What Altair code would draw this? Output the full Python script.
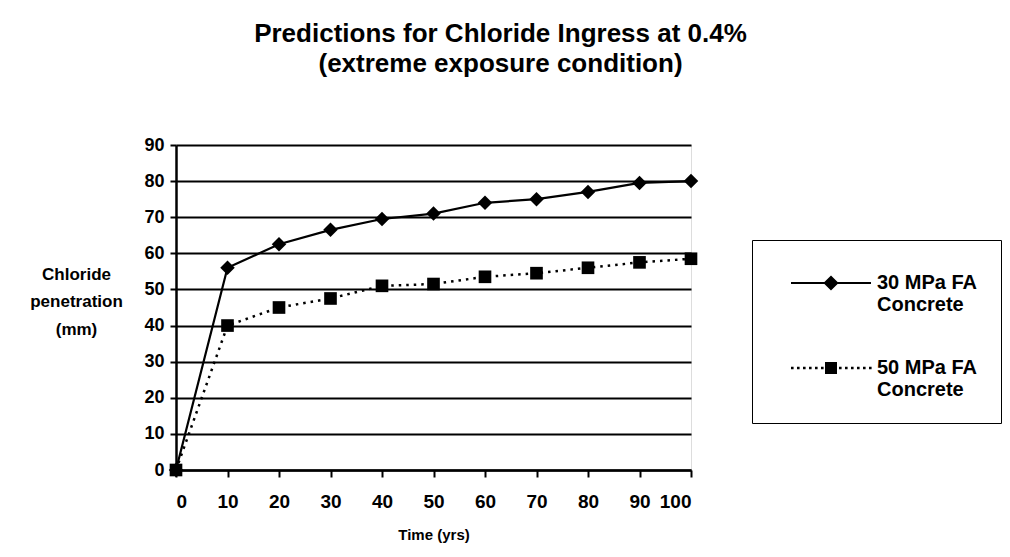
import altair as alt
import pandas as pd

# ---- data ----
years = [0, 10, 20, 30, 40, 50, 60, 70, 80, 90, 100]
mpa30 = [0, 56, 62.5, 66.5, 69.5, 71, 74, 75, 77, 79.5, 80]
mpa50 = [0, 40, 45, 47.5, 51, 51.5, 53.5, 54.5, 56, 57.5, 58.5]
series_names = ["30 MPa FA Concrete", "50 MPa FA Concrete"]
y_ticks = [0, 10, 20, 30, 40, 50, 60, 70, 80, 90]

df = pd.DataFrame({
    "year": years + years,
    "value": mpa30 + mpa50,
    "series": [series_names[0]] * len(years) + [series_names[1]] * len(years),
})

FONT = "Liberation Sans"

x = alt.X("year:Q", scale=alt.Scale(domain=[0, 100], nice=False),
          axis=alt.Axis(values=years, title="Time (yrs)", format="d",
                        labelFont=FONT, labelFontSize=19, labelFontWeight="bold",
                        labelColor="black", labelPadding=15,
                        titleFont=FONT, titleFontSize=15, titleFontWeight="bold",
                        titleColor="black", titlePadding=16,
                        domainColor="black", domainWidth=2.5,
                        tickColor="black", tickWidth=2, tickSize=7, grid=False))
y = alt.Y("value:Q", scale=alt.Scale(domain=[0, 90], nice=False),
          axis=alt.Axis(values=y_ticks, format="d",
                        title=["Chloride", "penetration", "(mm)"],
                        titleAngle=0, titleAlign="center", titleBaseline="top",
                        titleX=-100, titleY=121, titleLineHeight=27.5,
                        titleFont=FONT, titleFontSize=17, titleFontWeight="bold",
                        titleColor="black",
                        labelFont=FONT, labelFontSize=18, labelFontWeight="bold",
                        labelColor="black", labelPadding=6,
                        domainColor="black", domainWidth=2.5,
                        tickColor="black", tickWidth=2, tickSize=6,
                        grid=True, gridColor="black", gridWidth=2, gridOpacity=1))

line30 = alt.Chart(df).transform_filter(
    alt.datum.series == series_names[0]
).mark_line(color="black", strokeWidth=2.2).encode(x=x, y=y)

line50 = alt.Chart(df).transform_filter(
    alt.datum.series == series_names[1]
).mark_line(color="black", strokeWidth=2.5, strokeDash=[2.5, 5]).encode(x=x, y=y)

pts30 = alt.Chart(df).transform_filter(
    alt.datum.series == series_names[0]
).mark_point(shape="diamond", filled=True, color="black", opacity=1, size=210).encode(x=x, y=y)

pts50 = alt.Chart(df).transform_filter(
    alt.datum.series == series_names[1]
).mark_point(shape="square", filled=True, color="black", opacity=1, size=160).encode(x=x, y=y)


# ---- legend symbol shapes (filled outlines; 1 unit = 20 px) ----
def rect(x0, x1, y0, y1):
    return f"M{x0:.3f},{y0:.3f}L{x1:.3f},{y0:.3f}L{x1:.3f},{y1:.3f}L{x0:.3f},{y1:.3f}Z"


def dots(x0, x1, period=0.3, w=0.13, h=0.065):
    out, xx = [], x0
    while xx + w <= x1 + 1e-9:
        out.append(rect(xx, xx + w, -h, h))
        xx += period
    return "".join(out)


path30 = rect(-0.2, 3.8, -0.05, 0.05) + "M1.8,-0.38L2.18,0L1.8,0.38L1.42,0Z"
path50 = dots(-0.2, 1.45) + dots(2.2, 3.85) + rect(1.5, 2.1, -0.3, 0.3)

legend = alt.Legend(
    title=None, orient="none", legendX=576, legendY=95,
    strokeColor="black", fillColor="white", padding=23,
    symbolSize=1600, symbolStrokeWidth=0, symbolFillColor="black",
    labelOffset=62,
    labelFont=FONT, labelFontSize=20, labelFontWeight="bold", labelColor="black",
    labelLimit=400, labelBaseline="middle",
    rowPadding=33,
    labelExpr="[replace(datum.label, ' Concrete', ''), 'Concrete']",
)

# invisible layer (size 0) that only carries the legend
legend_layer = alt.Chart(df).mark_point(
    filled=True, color="black", opacity=1, size=0
).encode(
    x=x, y=y,
    shape=alt.Shape("series:N", scale=alt.Scale(domain=series_names, range=[path30, path50]),
                    legend=legend),
)

chart = alt.layer(line30, line50, legend_layer, pts30, pts50).properties(
    width=515, height=325,
    title=alt.TitleParams(
        text=["Predictions for Chloride Ingress at 0.4%", "(extreme exposure condition)"],
        font=FONT, fontSize=26, fontWeight="bold", color="black",
        anchor="middle", dx=67, offset=59, lineHeight=30,
    ),
    padding={"left": 176, "top": 145, "right": 319, "bottom": 87},
    autosize=alt.AutoSizeParams(type="none"),
).configure_view(stroke=None).configure(background="white")

chart.save("out.html", embed_options={"renderer": "svg", "actions": False})
